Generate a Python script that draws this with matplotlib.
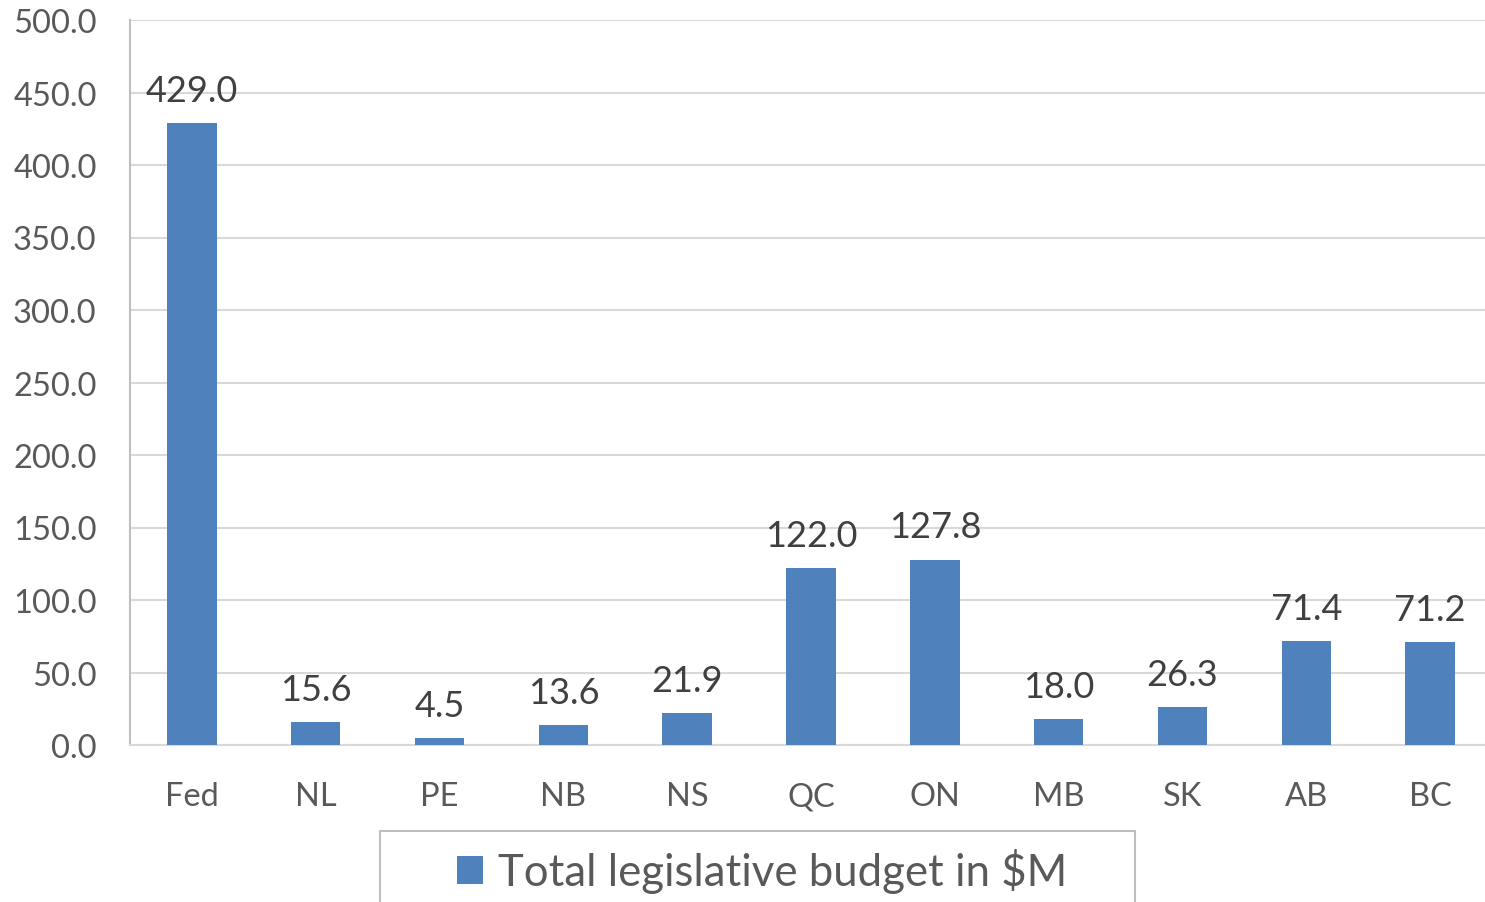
import matplotlib.pyplot as plt
from matplotlib.patches import Rectangle

plt.rcParams['font.family'] = ['Lato', 'DejaVu Sans']

provinces = ["Fed", "NL", "PE", "NB", "NS", "QC", "ON", "MB", "SK", "AB", "BC"]
budget = [429.0, 15.6, 4.5, 13.6, 21.9, 122.0, 127.8, 18.0, 26.3, 71.4, 71.2]
y_ticks = [0, 50, 100, 150, 200, 250, 300, 350, 400, 450, 500]

bar_color = "#4F81BD"

fig = plt.figure(figsize=(14.85, 9.03), dpi=100)
# the plot area runs a little past the right edge, as in the original crop
ax = fig.add_axes([130 / 1485, 157 / 903, 1362 / 1485, 725 / 903])

x = range(len(provinces))
bars = ax.bar(x, budget, width=0.4, color=bar_color, zorder=3,
              label="Total legislative budget in $M")

# data labels above each bar
for xi, v in zip(x, budget):
    ax.annotate(f"{v:.1f}", (xi, v), xytext=(0, 16), textcoords="offset points",
                ha="center", va="baseline", fontsize=26, color="#404040")

ax.set_xlim(-0.5, len(provinces) - 0.5)
ax.set_ylim(0, 500)
ax.set_yticks(y_ticks)
ax.set_yticklabels([f"{t:.1f}" for t in y_ticks])
ax.set_xticks(list(x))
ax.set_xticklabels(provinces)
ax.tick_params(axis="y", length=0, pad=24, labelsize=23.5, labelcolor="#595959")
ax.tick_params(axis="x", length=0, pad=26, labelsize=23.5, labelcolor="#595959")

ax.grid(axis="y", color="#D9D9D9", linewidth=1.5, zorder=0)
for side in ["top", "right"]:
    ax.spines[side].set_visible(False)
ax.spines["left"].set_color("#BFBFBF")
ax.spines["left"].set_linewidth(1.5)
ax.spines["bottom"].set_color("#D9D9D9")
ax.spines["bottom"].set_linewidth(1.5)

# legend box (cut off at the bottom like the original)
fig.patches.append(Rectangle((380 / 1485, -0.05), 755 / 1485, 0.05 + 71 / 903,
                             transform=fig.transFigure, fill=False,
                             edgecolor="#BFBFBF", linewidth=1.5))
fig.legend(handles=[bars], labels=["Total legislative budget in $M"],
           loc="center", bbox_to_anchor=(762 / 1485, 31 / 903), frameon=False,
           fontsize=31.5, labelcolor="#595959", handlelength=0.6, handleheight=0.6,
           handletextpad=0.35)

fig.savefig("out.png", dpi=100)
